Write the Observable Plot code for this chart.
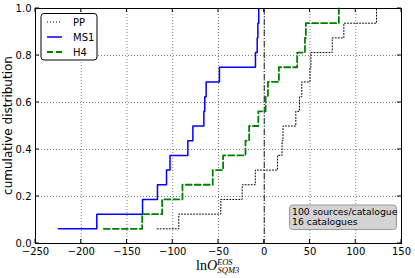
<!DOCTYPE html>
<html><head><meta charset="utf-8">
<script src="https://cdn.jsdelivr.net/npm/d3@7"></script>
<script src="https://cdn.jsdelivr.net/npm/@observablehq/plot@0.6"></script>
<style>
html,body{margin:0;padding:0;background:#fff;}
#chart{width:415px;height:278px;}
</style></head><body><div id="chart"></div>
<script>
// ---- data ----
const seriesNames = ["PP", "MS1", "H4"];
const ppValues  = [-117, -93.4, -47.5, -24.1, -9.8, 14.5, 19.5, 20.5, 34.5, 38.5, 41, 50, 51, 74.3, 87, 122.7];
const ms1Values = [-225, -183, -133, -116.7, -106.8, -103, -83.5, -78, -66, -65, -63.5, -49, -9.6, -7.7, -7, -6];
const h4Values  = [-175.4, -133.4, -111.6, -89.4, -56.3, -45, -20.5, -16.5, -6.5, 1.5, 4, 16, 36, 44.5, 45.5, 81.5];
const nCatalogues = 16;
const xTicks = [-250, -200, -150, -100, -50, 0, 50, 100, 150];
const yTicks = [0, 0.2, 0.4, 0.6, 0.8, 1.0];
const refX = [0];
const yLabel = "cumulative distribution";
const annotationLines = ["100 sources/catalogue", "16 catalogues"];

function cdf(values, name) {
  return values.map((x, i) => ({series: name, x, y: (i + 1) / nCatalogues}));
}

const styles = {
  PP:  {stroke: "#000", strokeWidth: 1, strokeDasharray: "1,2"},
  MS1: {stroke: "#0000ff", strokeWidth: 1.5, strokeDasharray: null},
  H4:  {stroke: "#008000", strokeWidth: 1.8, strokeDasharray: "6,3"}
};
const dataBy = {PP: cdf(ppValues, "PP"), MS1: cdf(ms1Values, "MS1"), H4: cdf(h4Values, "H4")};

const W = 415, H = 278;
const chart = Plot.plot({
  width: W, height: H,
  marginLeft: 35, marginRight: 14, marginTop: 8, marginBottom: 35,
  style: {fontFamily: "DejaVu Sans", fontSize: "10px", background: "white", color: "black"},
  x: {domain: [-250, 150], label: null},
  y: {domain: [0, 1], label: null},
  marks: [
    Plot.gridX(xTicks, {stroke: "#000", strokeOpacity: 0.5, strokeDasharray: "1,2"}),
    Plot.gridY(yTicks, {stroke: "#000", strokeOpacity: 0.5, strokeDasharray: "1,2"}),
    Plot.ruleX(refX, {stroke: "#222", strokeWidth: 1, strokeDasharray: "6,2,1,2"}),
    ...seriesNames.map(s => Plot.line(dataBy[s], {x: "x", y: "y", curve: "step-after", ...styles[s]})),
    Plot.frame({stroke: "black", strokeWidth: 1}),
    Plot.axisX({ticks: xTicks, tickSize: 0, tickPadding: 4, fontSize: 10}),
    Plot.axisY({ticks: yTicks, tickSize: 0, tickPadding: 4, fontSize: 10, tickFormat: d3.format(".1f")})
  ]
});
document.getElementById("chart").appendChild(chart);

const svg = d3.select(chart);
const xs = chart.scale("x"), ys = chart.scale("y");
const L = 35, R = W - 14, T = 8, B = H - 35;

// inward ticks on all four sides
const tk = svg.append("g").attr("stroke", "black").attr("stroke-width", 1);
xTicks.forEach(v => {
  const px = xs.apply(v);
  tk.append("line").attr("x1", px).attr("x2", px).attr("y1", B).attr("y2", B - 4);
  tk.append("line").attr("x1", px).attr("x2", px).attr("y1", T).attr("y2", T + 4);
});
yTicks.forEach(v => {
  const py = ys.apply(v);
  tk.append("line").attr("x1", L).attr("x2", L + 4).attr("y1", py).attr("y2", py);
  tk.append("line").attr("x1", R).attr("x2", R - 4).attr("y1", py).attr("y2", py);
});

// y axis title
svg.append("text")
  .attr("transform", `translate(12,${(T + B) / 2}) rotate(-90)`)
  .attr("text-anchor", "middle")
  .attr("font-family", "DejaVu Sans").attr("font-size", 12)
  .text(yLabel);

// x axis title (math text)
const xt = svg.append("text")
  .attr("x", 196).attr("y", 270)
  .attr("text-anchor", "start")
  .attr("font-family", "Liberation Serif").attr("font-size", 14);
xt.append("tspan").text("ln");
xt.append("tspan").attr("font-style", "italic").text("O");
xt.append("tspan").attr("font-style", "italic").attr("font-size", 8.5).attr("dy", -5.5).text("EOS");
xt.append("tspan").attr("font-style", "italic").attr("font-size", 8.5).attr("dx", -15).attr("dy", 8.5).text("SQM3");

// legend
const lg = svg.append("g").attr("text-anchor", "start");
lg.append("rect").attr("x", 41).attr("y", 13.5).attr("width", 56).attr("height", 46.5)
  .attr("rx", 3).attr("fill", "white").attr("stroke", "black").attr("stroke-width", 1);
seriesNames.forEach((s, i) => {
  const yy = 22 + i * 15;
  const st = styles[s];
  lg.append("line").attr("x1", 47).attr("x2", 62).attr("y1", yy).attr("y2", yy)
    .attr("stroke", st.stroke).attr("stroke-width", st.strokeWidth)
    .attr("stroke-dasharray", st.strokeDasharray);
  lg.append("text").attr("x", 73).attr("y", yy).attr("dy", "0.35em")
    .attr("text-anchor", "start")
    .attr("font-family", "DejaVu Sans").attr("font-size", 10).text(s);
});

// annotation box
const ab = svg.append("g").attr("text-anchor", "start");
ab.append("rect").attr("x", 289.5).attr("y", 205).attr("width", 107).attr("height", 24.5)
  .attr("rx", 3).attr("fill", "#d3d3d3").attr("stroke", "#999").attr("stroke-width", 1);
annotationLines.forEach((t, i) => {
  ab.append("text").attr("x", 292).attr("y", 214.5 + i * 10.5)
    .attr("text-anchor", "start")
    .attr("font-family", "DejaVu Sans").attr("font-size", 9.3).text(t);
});
</script>
</body></html>
